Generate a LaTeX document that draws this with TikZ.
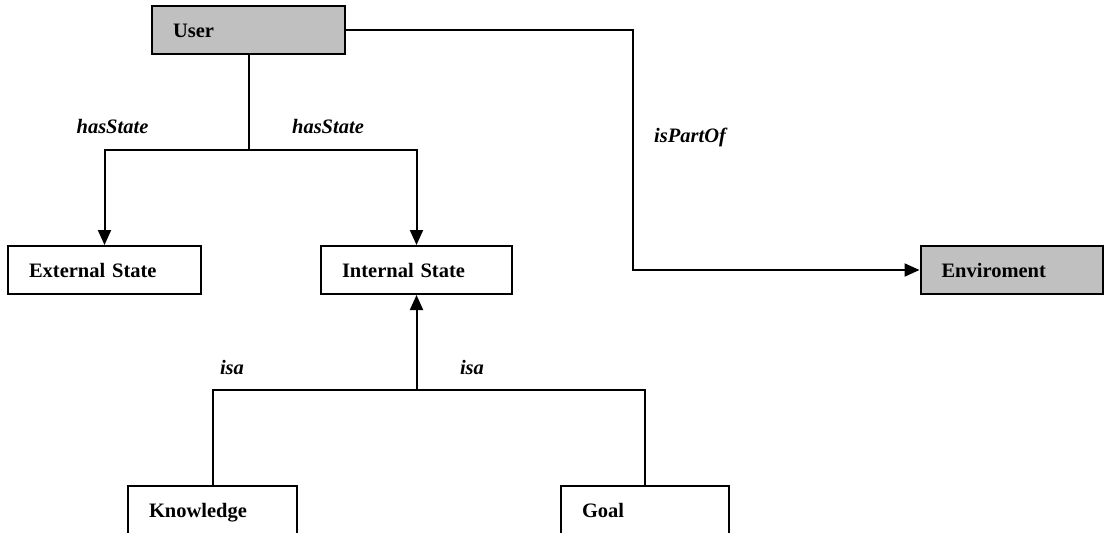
\documentclass[tikz,border=0pt]{standalone}
\usepackage{fontspec}
\setmainfont{Liberation Serif}
\usetikzlibrary{arrows.meta}
\definecolor{boxgrey}{RGB}{192,192,192}
\begin{document}
\begin{tikzpicture}[x=1pt,y=-1pt,line width=2pt,
    cls/.style={draw,line width=2pt,minimum height=48pt,inner xsep=21pt,align=left,
      text height=14pt,text depth=0pt,font=\fontsize{20.5}{24}\selectfont\bfseries},
    lbl/.style={font=\fontsize{20.5}{24}\selectfont\bfseries\itshape},
    >={Triangle[length=15pt,width=13pt]}]
                \useasboundingbox (0,0) rectangle (1104,533);
                \clip (0,0) rectangle (1104,533);
                \node[cls,fill=boxgrey,text width=151pt] (user) at (248.5,30) {User};
                \node[cls,text width=151pt] (ext) at (104.5,270) {External State};
                \node[cls,text width=149pt] (int) at (416.5,270) {Internal State};
                \node[cls,fill=boxgrey,text width=140pt] (env) at (1011.5,270) {Enviroment};
                \node[cls,text width=127pt] (know) at (212.5,510) {Knowledge};
                \node[cls,text width=126pt] (goal) at (645,510) {Goal};
                \node[lbl] (hs1) at (112.5,126) {hasState};
                \node[lbl] (hs2) at (328,126) {hasState};
                \node[lbl] (part) at (690,137) {isPartOf};
                \node[lbl] (isa1) at (232,367) {isa};
                \node[lbl] (isa2) at (472,367) {isa};
                \coordinate (hsfork) at (248.5,150);
                \coordinate (partbend) at (633,150);
                \coordinate (isafork) at (416.5,390);
                \draw (user) -- (hsfork);
                \draw[->] (hsfork) -| (ext);
                \draw[->] (hsfork) -| (int);
                \draw[->] (user) -| (partbend) |- (env);
                \draw[->] (isafork) -- (int);
                \draw (isafork) -| (know);
                \draw (isafork) -| (goal);
            \end{tikzpicture}
\end{document}
